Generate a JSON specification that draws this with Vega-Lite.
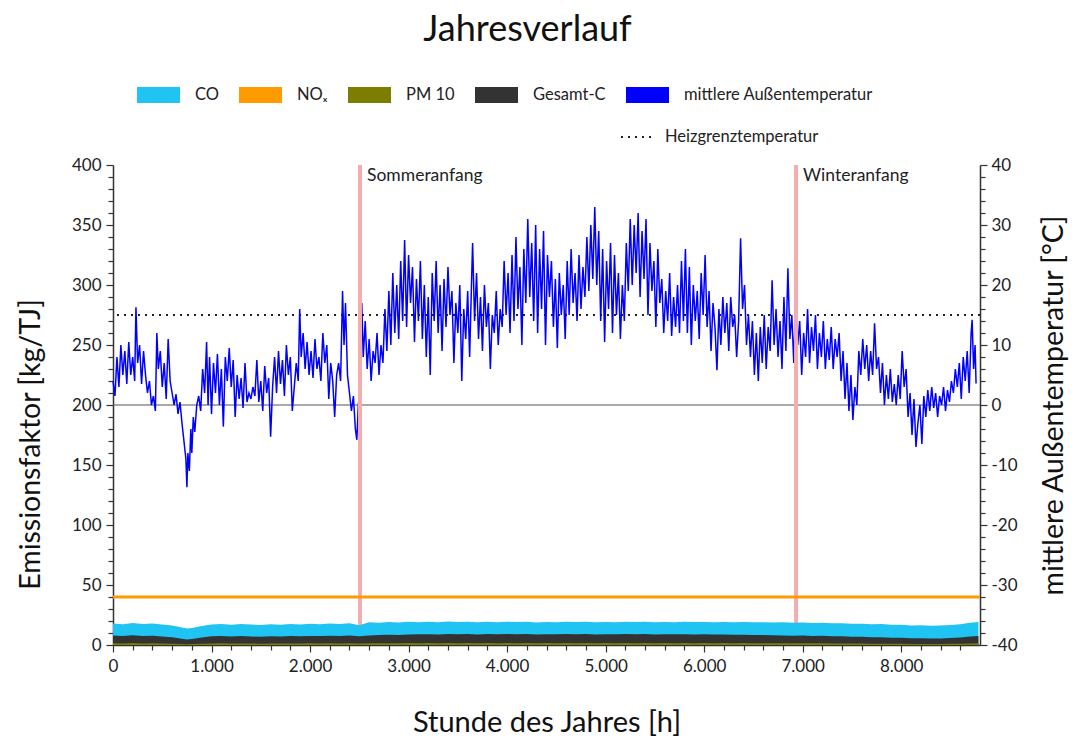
{
"$schema": "https://vega.github.io/schema/vega-lite/v6.json",
"width": 867, "height": 480,
"autosize": {"type": "none"},
"padding": {"left": 113, "top": 165, "right": 99, "bottom": 97},
"background": "white",
"config": {"font": "Lato", "view": {"stroke": null},
  "axis": {"labelFont": "Lato", "titleFont": "Lato", "labelFontSize": 17, "labelColor": "#222", "titleColor": "#111", "titleFontWeight": "normal", "titleFontSize": 28.5, "tickColor": "#333", "domainColor": "#333", "domainWidth": 1.5, "tickWidth": 1.2, "grid": false, "labelOverlap": false, "labelFlush": false, "labelBound": false},
  "legend": {"labelFont": "Lato", "labelFontSize": 16.5, "labelColor": "#222"}},
"title": {"text": "Jahresverlauf", "font": "Lato", "fontSize": 36, "fontWeight": "normal", "color": "#111", "anchor": "middle", "dx": -19, "offset": 25},
"datasets": {
"heiz": [{"t": 15, "name": "Heizgrenztemperatur"}],
"nox": [{"v": 40}],
"events": [{"h": 2507, "label": "Sommeranfang"}, {"h": 6933, "label": "Winteranfang"}],
"temp": [
{"h":0,"t":4},{"h":20,"t":1.5},{"h":40,"t":8},{"h":60,"t":3},{"h":80,"t":10},{"h":100,"t":5},{"h":120,"t":9},{"h":140,"t":3.5},{"h":160,"t":10.5},{"h":180,"t":5},{"h":200,"t":8},{"h":220,"t":4},{"h":233,"t":16.3},{"h":250,"t":7},{"h":270,"t":10},{"h":290,"t":3.5},{"h":310,"t":9},{"h":330,"t":5},{"h":350,"t":2},{"h":370,"t":4},{"h":390,"t":0},{"h":410,"t":1.5},{"h":430,"t":-1},{"h":445,"t":12},{"h":460,"t":6},{"h":480,"t":9},{"h":500,"t":3},{"h":520,"t":7},{"h":540,"t":1},{"h":560,"t":11},{"h":580,"t":4},{"h":600,"t":2},{"h":620,"t":0},{"h":640,"t":1.8},{"h":660,"t":-1.5},{"h":680,"t":0.5},{"h":700,"t":-3},{"h":720,"t":-6},{"h":740,"t":-9},{"h":750,"t":-13.7},{"h":760,"t":-8},{"h":775,"t":-11},{"h":790,"t":-4},{"h":800,"t":-8},{"h":815,"t":-2},{"h":830,"t":-4.5},{"h":850,"t":0},{"h":870,"t":1.5},{"h":890,"t":-1},{"h":910,"t":6},{"h":930,"t":2},{"h":950,"t":10.5},{"h":965,"t":0},{"h":980,"t":8},{"h":1000,"t":-1.5},{"h":1020,"t":7},{"h":1040,"t":2},{"h":1060,"t":8.5},{"h":1080,"t":0},{"h":1100,"t":6},{"h":1120,"t":-3.6},{"h":1140,"t":8},{"h":1160,"t":4},{"h":1180,"t":9.5},{"h":1200,"t":3},{"h":1220,"t":7.5},{"h":1240,"t":-2},{"h":1260,"t":5},{"h":1280,"t":1},{"h":1300,"t":4.5},{"h":1320,"t":-0.5},{"h":1340,"t":7},{"h":1360,"t":0.5},{"h":1380,"t":2},{"h":1400,"t":1},{"h":1420,"t":3},{"h":1440,"t":1.5},{"h":1460,"t":7.5},{"h":1480,"t":0.5},{"h":1500,"t":4},{"h":1520,"t":-1},{"h":1540,"t":6.5},{"h":1560,"t":2},{"h":1580,"t":4.5},{"h":1600,"t":-5.3},{"h":1620,"t":3},{"h":1640,"t":8},{"h":1660,"t":2},{"h":1680,"t":9},{"h":1700,"t":3.5},{"h":1720,"t":7.5},{"h":1740,"t":1.5},{"h":1760,"t":10},{"h":1780,"t":5},{"h":1800,"t":8},{"h":1820,"t":-1},{"h":1840,"t":3},{"h":1860,"t":7},{"h":1880,"t":4},{"h":1895,"t":16},{"h":1910,"t":8},{"h":1930,"t":12},{"h":1950,"t":6},{"h":1970,"t":10.5},{"h":1990,"t":5},{"h":2010,"t":9},{"h":2030,"t":4.5},{"h":2050,"t":11},{"h":2070,"t":6},{"h":2090,"t":8},{"h":2110,"t":4},{"h":2130,"t":12},{"h":2150,"t":7},{"h":2170,"t":10},{"h":2190,"t":1},{"h":2210,"t":7},{"h":2230,"t":4},{"h":2250,"t":-2},{"h":2270,"t":5},{"h":2290,"t":7},{"h":2310,"t":4},{"h":2330,"t":19},{"h":2345,"t":10},{"h":2360,"t":17},{"h":2380,"t":5},{"h":2400,"t":2},{"h":2420,"t":-1},{"h":2440,"t":1.5},{"h":2460,"t":-4},{"h":2475,"t":-5.8},{"h":2490,"t":0},{"h":2510,"t":3},{"h":2525,"t":17},{"h":2540,"t":8},{"h":2560,"t":14},{"h":2580,"t":6},{"h":2600,"t":11},{"h":2620,"t":4},{"h":2640,"t":9},{"h":2660,"t":7},{"h":2680,"t":12},{"h":2700,"t":5},{"h":2720,"t":10},{"h":2740,"t":7},{"h":2760,"t":16},{"h":2780,"t":9},{"h":2800,"t":19},{"h":2820,"t":10},{"h":2840,"t":22},{"h":2860,"t":12},{"h":2880,"t":20},{"h":2900,"t":11},{"h":2920,"t":24},{"h":2940,"t":14},{"h":2960,"t":27.5},{"h":2980,"t":13},{"h":3000,"t":25},{"h":3020,"t":17},{"h":3040,"t":23},{"h":3060,"t":10.5},{"h":3080,"t":21},{"h":3100,"t":14},{"h":3120,"t":24},{"h":3140,"t":11},{"h":3160,"t":20},{"h":3180,"t":8},{"h":3200,"t":18},{"h":3220,"t":5},{"h":3240,"t":22},{"h":3260,"t":14},{"h":3280,"t":24},{"h":3300,"t":12},{"h":3320,"t":20},{"h":3340,"t":9},{"h":3360,"t":21},{"h":3380,"t":13},{"h":3400,"t":23},{"h":3420,"t":15},{"h":3440,"t":19},{"h":3460,"t":7},{"h":3480,"t":17},{"h":3500,"t":12},{"h":3520,"t":20},{"h":3540,"t":4},{"h":3560,"t":16},{"h":3580,"t":11},{"h":3600,"t":19},{"h":3620,"t":8},{"h":3640,"t":21},{"h":3650,"t":27},{"h":3670,"t":14},{"h":3690,"t":22},{"h":3710,"t":11},{"h":3730,"t":18},{"h":3750,"t":9},{"h":3770,"t":20},{"h":3790,"t":13},{"h":3810,"t":17},{"h":3830,"t":6},{"h":3850,"t":15},{"h":3870,"t":12},{"h":3890,"t":19},{"h":3910,"t":10},{"h":3930,"t":16},{"h":3950,"t":13},{"h":3970,"t":24},{"h":3990,"t":15},{"h":4010,"t":22},{"h":4030,"t":12},{"h":4050,"t":25},{"h":4070,"t":14},{"h":4090,"t":28},{"h":4110,"t":16},{"h":4130,"t":23},{"h":4150,"t":10},{"h":4170,"t":26},{"h":4190,"t":17},{"h":4210,"t":31},{"h":4230,"t":18},{"h":4250,"t":27},{"h":4270,"t":14},{"h":4290,"t":30},{"h":4310,"t":12},{"h":4330,"t":26},{"h":4350,"t":16},{"h":4370,"t":29},{"h":4390,"t":10},{"h":4410,"t":25},{"h":4430,"t":18},{"h":4450,"t":24},{"h":4470,"t":13},{"h":4490,"t":21},{"h":4510,"t":9.5},{"h":4530,"t":22},{"h":4550,"t":15},{"h":4570,"t":20},{"h":4590,"t":11},{"h":4610,"t":24},{"h":4630,"t":15},{"h":4650,"t":26},{"h":4670,"t":17},{"h":4690,"t":22},{"h":4710,"t":14},{"h":4730,"t":25},{"h":4750,"t":16},{"h":4770,"t":23},{"h":4790,"t":18},{"h":4810,"t":28},{"h":4830,"t":19},{"h":4850,"t":30},{"h":4870,"t":21},{"h":4890,"t":33},{"h":4910,"t":20},{"h":4930,"t":29},{"h":4950,"t":14},{"h":4970,"t":26},{"h":4990,"t":10.5},{"h":5010,"t":24},{"h":5030,"t":16},{"h":5050,"t":27},{"h":5070,"t":12},{"h":5090,"t":25},{"h":5110,"t":15},{"h":5130,"t":22},{"h":5150,"t":11},{"h":5170,"t":20},{"h":5190,"t":14},{"h":5210,"t":27},{"h":5230,"t":19},{"h":5250,"t":31},{"h":5270,"t":20},{"h":5290,"t":30},{"h":5310,"t":22},{"h":5330,"t":32},{"h":5350,"t":18},{"h":5370,"t":29},{"h":5390,"t":21},{"h":5410,"t":31},{"h":5430,"t":15},{"h":5450,"t":27},{"h":5470,"t":19},{"h":5490,"t":24},{"h":5510,"t":13},{"h":5530,"t":26},{"h":5550,"t":17},{"h":5570,"t":21},{"h":5590,"t":12},{"h":5610,"t":19},{"h":5630,"t":14},{"h":5650,"t":22},{"h":5670,"t":11.5},{"h":5690,"t":18},{"h":5710,"t":13},{"h":5730,"t":20},{"h":5750,"t":12},{"h":5770,"t":24},{"h":5790,"t":14},{"h":5810,"t":26},{"h":5830,"t":12},{"h":5850,"t":23},{"h":5870,"t":10},{"h":5890,"t":20},{"h":5910,"t":14},{"h":5930,"t":19},{"h":5950,"t":11},{"h":5970,"t":22},{"h":5990,"t":15},{"h":6010,"t":25},{"h":6030,"t":13},{"h":6050,"t":19},{"h":6070,"t":9},{"h":6090,"t":17},{"h":6110,"t":13},{"h":6130,"t":5.8},{"h":6150,"t":16},{"h":6170,"t":10},{"h":6190,"t":18},{"h":6210,"t":12},{"h":6230,"t":17},{"h":6250,"t":9},{"h":6270,"t":18},{"h":6290,"t":13},{"h":6310,"t":15},{"h":6330,"t":8},{"h":6350,"t":14},{"h":6370,"t":27.8},{"h":6390,"t":16},{"h":6410,"t":20},{"h":6430,"t":10},{"h":6450,"t":15},{"h":6470,"t":8},{"h":6490,"t":14},{"h":6510,"t":5},{"h":6530,"t":12},{"h":6550,"t":4},{"h":6570,"t":13},{"h":6590,"t":7},{"h":6610,"t":15},{"h":6630,"t":6},{"h":6650,"t":13},{"h":6670,"t":9},{"h":6690,"t":20.8},{"h":6710,"t":10},{"h":6730,"t":16},{"h":6750,"t":8},{"h":6770,"t":14},{"h":6790,"t":6},{"h":6810,"t":18},{"h":6830,"t":9},{"h":6850,"t":22.8},{"h":6870,"t":11},{"h":6890,"t":15},{"h":6910,"t":7},{"h":6930,"t":17.8},{"h":6950,"t":10},{"h":6970,"t":14},{"h":6990,"t":5},{"h":7010,"t":12},{"h":7030,"t":8},{"h":7050,"t":16},{"h":7070,"t":7},{"h":7090,"t":13},{"h":7110,"t":9},{"h":7130,"t":15},{"h":7150,"t":6},{"h":7170,"t":12},{"h":7190,"t":8},{"h":7210,"t":14},{"h":7230,"t":6},{"h":7250,"t":11},{"h":7270,"t":7.5},{"h":7290,"t":13},{"h":7310,"t":6},{"h":7330,"t":11},{"h":7350,"t":8},{"h":7370,"t":12},{"h":7390,"t":4},{"h":7410,"t":9},{"h":7430,"t":1},{"h":7450,"t":7},{"h":7470,"t":-1},{"h":7490,"t":5},{"h":7510,"t":-2.5},{"h":7530,"t":3},{"h":7550,"t":0},{"h":7570,"t":9},{"h":7590,"t":5},{"h":7610,"t":11},{"h":7630,"t":6},{"h":7650,"t":10},{"h":7670,"t":4},{"h":7690,"t":9},{"h":7710,"t":5},{"h":7730,"t":13.6},{"h":7750,"t":6},{"h":7770,"t":8},{"h":7790,"t":2},{"h":7810,"t":7},{"h":7830,"t":0},{"h":7850,"t":5},{"h":7870,"t":1},{"h":7890,"t":6},{"h":7910,"t":0.5},{"h":7930,"t":3.5},{"h":7950,"t":0},{"h":7970,"t":5},{"h":7990,"t":1},{"h":8010,"t":9},{"h":8030,"t":3},{"h":8050,"t":6},{"h":8070,"t":-2},{"h":8090,"t":2},{"h":8110,"t":-5},{"h":8130,"t":1},{"h":8150,"t":-7},{"h":8170,"t":-3},{"h":8190,"t":0},{"h":8210,"t":-6.5},{"h":8230,"t":1.5},{"h":8250,"t":-2},{"h":8270,"t":2.5},{"h":8290,"t":-1},{"h":8310,"t":3},{"h":8330,"t":-0.5},{"h":8350,"t":2},{"h":8370,"t":-2},{"h":8390,"t":1.5},{"h":8410,"t":0},{"h":8430,"t":3},{"h":8450,"t":-1},{"h":8470,"t":2.5},{"h":8490,"t":0.5},{"h":8510,"t":4},{"h":8530,"t":2},{"h":8550,"t":6},{"h":8570,"t":3},{"h":8590,"t":7},{"h":8610,"t":1},{"h":8630,"t":8},{"h":8650,"t":4},{"h":8670,"t":9},{"h":8690,"t":2},{"h":8710,"t":12},{"h":8720,"t":14.2},{"h":8735,"t":6},{"h":8750,"t":10},{"h":8760,"t":3.6}
],
"bands": [
{"h":0,"co":18.0,"gc":8.0,"pm":1.5},{"h":100,"co":17.2,"gc":7.4,"pm":1.2},{"h":200,"co":18.3,"gc":8.2,"pm":1.6},{"h":300,"co":17.5,"gc":7.6,"pm":1.3},{"h":400,"co":17.9,"gc":7.8,"pm":1.4},{"h":500,"co":17.0,"gc":7.0,"pm":1.2},{"h":600,"co":16.2,"gc":6.4,"pm":1.0},{"h":700,"co":14.5,"gc":5.2,"pm":0.8},{"h":750,"co":13.8,"gc":4.6,"pm":0.7},{"h":800,"co":14.2,"gc":5.0,"pm":0.8},{"h":900,"co":15.8,"gc":6.3,"pm":1.0},{"h":1000,"co":17.0,"gc":7.2,"pm":1.2},{"h":1100,"co":17.6,"gc":7.6,"pm":1.4},{"h":1200,"co":16.8,"gc":7.0,"pm":1.2},{"h":1300,"co":17.4,"gc":7.4,"pm":1.3},{"h":1400,"co":17.0,"gc":7.1,"pm":1.2},{"h":1500,"co":16.6,"gc":6.8,"pm":1.1},{"h":1600,"co":17.3,"gc":7.2,"pm":1.3},{"h":1700,"co":16.9,"gc":7.0,"pm":1.2},{"h":1800,"co":17.5,"gc":7.4,"pm":1.3},{"h":1900,"co":17.1,"gc":7.3,"pm":1.2},{"h":2000,"co":17.8,"gc":7.6,"pm":1.4},{"h":2100,"co":17.3,"gc":7.4,"pm":1.2},{"h":2200,"co":17.9,"gc":7.8,"pm":1.4},{"h":2300,"co":17.6,"gc":7.5,"pm":1.3},{"h":2400,"co":18.2,"gc":7.9,"pm":1.5},{"h":2500,"co":16.5,"gc":7.2,"pm":1.2},{"h":2600,"co":19.0,"gc":8.0,"pm":1.5},{"h":2700,"co":18.6,"gc":8.3,"pm":1.4},{"h":2800,"co":19.2,"gc":8.5,"pm":1.5},{"h":2900,"co":18.8,"gc":8.4,"pm":1.4},{"h":3000,"co":19.3,"gc":8.7,"pm":1.6},{"h":3100,"co":18.9,"gc":8.9,"pm":1.5},{"h":3200,"co":19.4,"gc":9.0,"pm":1.6},{"h":3300,"co":19.0,"gc":8.8,"pm":1.5},{"h":3400,"co":19.5,"gc":9.1,"pm":1.6},{"h":3500,"co":19.1,"gc":8.9,"pm":1.5},{"h":3600,"co":19.4,"gc":9.2,"pm":1.6},{"h":3700,"co":18.9,"gc":8.8,"pm":1.5},{"h":3800,"co":19.3,"gc":9.1,"pm":1.6},{"h":3900,"co":19.0,"gc":8.9,"pm":1.5},{"h":4000,"co":19.4,"gc":9.2,"pm":1.6},{"h":4100,"co":19.1,"gc":9.0,"pm":1.5},{"h":4200,"co":19.3,"gc":9.1,"pm":1.6},{"h":4300,"co":18.8,"gc":8.7,"pm":1.5},{"h":4400,"co":19.2,"gc":9.0,"pm":1.6},{"h":4500,"co":19.0,"gc":8.9,"pm":1.5},{"h":4600,"co":19.4,"gc":9.2,"pm":1.6},{"h":4700,"co":19.1,"gc":9.0,"pm":1.5},{"h":4800,"co":19.3,"gc":9.1,"pm":1.6},{"h":4900,"co":18.9,"gc":8.8,"pm":1.5},{"h":5000,"co":19.2,"gc":9.0,"pm":1.6},{"h":5100,"co":19.0,"gc":8.9,"pm":1.5},{"h":5200,"co":19.4,"gc":9.1,"pm":1.6},{"h":5300,"co":19.1,"gc":8.9,"pm":1.5},{"h":5400,"co":19.3,"gc":9.1,"pm":1.6},{"h":5500,"co":18.9,"gc":8.8,"pm":1.5},{"h":5600,"co":19.2,"gc":9.0,"pm":1.6},{"h":5700,"co":19.0,"gc":8.9,"pm":1.5},{"h":5800,"co":19.3,"gc":9.0,"pm":1.6},{"h":5900,"co":19.1,"gc":8.8,"pm":1.5},{"h":6000,"co":19.2,"gc":8.9,"pm":1.6},{"h":6100,"co":18.9,"gc":8.7,"pm":1.5},{"h":6200,"co":19.2,"gc":8.8,"pm":1.6},{"h":6300,"co":18.9,"gc":8.6,"pm":1.5},{"h":6400,"co":19.1,"gc":8.6,"pm":1.6},{"h":6500,"co":18.9,"gc":8.4,"pm":1.5},{"h":6600,"co":19.0,"gc":8.3,"pm":1.5},{"h":6700,"co":18.7,"gc":8.1,"pm":1.4},{"h":6800,"co":18.9,"gc":8.0,"pm":1.5},{"h":6900,"co":18.5,"gc":7.8,"pm":1.4},{"h":7000,"co":18.7,"gc":7.9,"pm":1.5},{"h":7100,"co":18.3,"gc":7.6,"pm":1.4},{"h":7200,"co":18.6,"gc":7.7,"pm":1.4},{"h":7300,"co":18.1,"gc":7.3,"pm":1.3},{"h":7400,"co":18.2,"gc":7.2,"pm":1.3},{"h":7500,"co":17.7,"gc":6.9,"pm":1.2},{"h":7600,"co":17.8,"gc":6.8,"pm":1.2},{"h":7700,"co":17.3,"gc":6.5,"pm":1.1},{"h":7800,"co":17.4,"gc":6.5,"pm":1.1},{"h":7900,"co":16.9,"gc":6.1,"pm":1.0},{"h":8000,"co":16.8,"gc":6.0,"pm":1.0},{"h":8100,"co":16.3,"gc":5.7,"pm":0.9},{"h":8200,"co":16.4,"gc":5.6,"pm":0.9},{"h":8300,"co":16.0,"gc":5.4,"pm":0.9},{"h":8400,"co":16.2,"gc":5.5,"pm":0.9},{"h":8500,"co":16.6,"gc":5.8,"pm":1.0},{"h":8600,"co":17.3,"gc":6.2,"pm":1.1},{"h":8700,"co":18.6,"gc":7.0,"pm":1.3},{"h":8784,"co":19.2,"gc":7.6,"pm":1.4}
]
},
"layer": [
{"layer": [
  {"data": {"values": [{"t": 0}]}, "mark": {"type": "rule", "color": "#555", "strokeWidth": 1.2},
   "encoding": {"y": {"field": "t", "type": "quantitative", "scale": {"domain": [-40, 40], "nice": false, "zero": false},
     "axis": {"orient": "right", "title": "mittlere Außentemperatur [°C]", "titleAngle": 270, "titleBaseline": "top", "titlePadding": 22, "labelOverlap": false, "labelBound": false, "titleFontSize": 28.5, "tickCount": 200,
       "values": [-40,-38,-36,-34,-32,-30,-28,-26,-24,-22,-20,-18,-16,-14,-12,-10,-8,-6,-4,-2,0,2,4,6,8,10,12,14,16,18,20,22,24,26,28,30,32,34,36,38,40],
       "labelExpr": "datum.value % 10 === 0 ? datum.value : ''",
       "tickSize": {"condition": {"test": "datum.value % 10 === 0", "value": 7}, "value": 5}, "labelPadding": 4}}}},
  {"data": {"name": "heiz"}, "mark": {"type": "rule", "strokeWidth": 2, "color": "#222"},
   "encoding": {"y": {"field": "t", "type": "quantitative"},
     "strokeDash": {"field": "name", "type": "nominal", "scale": {"range": [[2, 5]]},
       "legend": {"orient": "none", "legendX": 507, "legendY": -46.5, "title": null, "symbolType": "stroke", "symbolSize": 1225, "symbolStrokeWidth": 2, "symbolStrokeColor": "#222", "labelOffset": 8, "padding": 0, "labelFontSize": 16.5}}}},
  {"data": {"name": "temp"}, "mark": {"type": "line", "strokeWidth": 1.5},
   "encoding": {
     "x": {"field": "h", "type": "quantitative", "scale": {"domain": [0, 8800], "nice": false, "zero": false},
       "axis": {"orient": "bottom", "title": "Stunde des Jahres [h]", "titlePadding": 34, "titleFontSize": 29, "labelOverlap": false, "labelBound": false, "tickCount": 200,
         "values": [0,200,400,600,800,1000,1200,1400,1600,1800,2000,2200,2400,2600,2800,3000,3200,3400,3600,3800,4000,4200,4400,4600,4800,5000,5200,5400,5600,5800,6000,6200,6400,6600,6800,7000,7200,7400,7600,7800,8000,8200,8400,8600],
         "labelExpr": "datum.value % 1000 === 0 ? replace(format(datum.value, ','), ',', '.') : ''",
         "tickSize": {"condition": {"test": "datum.value % 1000 === 0", "value": 7}, "value": 5}, "labelPadding": 6}},
     "y": {"field": "t", "type": "quantitative"},
     "color": {"datum": "mittlere Außentemperatur", "type": "nominal",
       "scale": {"domain": ["CO", "NOₓ", "PM 10", "Gesamt-C", "mittlere Außentemperatur"], "range": ["#1fc4f2", "#ff9a00", "#7d7d00", "#333333", "#0000ff"]},
       "legend": {"orient": "none", "legendX": 24, "legendY": -91.5, "direction": "horizontal", "title": null, "symbolType": "M-1,-0.372H1V0.372H-1Z", "symbolSize": 1849, "symbolStrokeWidth": 0, "symbolOpacity": 1, "labelOffset": 15, "columnPadding": 20, "padding": 0, "labelLimit": 300, "labelFontSize": 16.5,
         "encode": {"symbols": {"update": {"fill": {"scale": "color", "field": "value"}, "fillOpacity": {"value": 1}, "strokeWidth": {"value": 0}}}}}}
   }}
]},
{"layer": [
  {"data": {"name": "events"}, "mark": {"type": "rule", "color": "#f5acac", "strokeWidth": 4},
   "encoding": {"x": {"field": "h", "type": "quantitative"}}},
  {"data": {"name": "bands"}, "mark": {"type": "area", "opacity": 1},
   "encoding": {"x": {"field": "h", "type": "quantitative"},
     "y": {"field": "co", "type": "quantitative", "scale": {"domain": [0, 400], "nice": false},
       "axis": {"orient": "left", "title": "Emissionsfaktor [kg/TJ]", "titlePadding": 26, "titleY": 279, "titleFontSize": 28.5, "labelOverlap": false, "labelBound": false, "tickCount": 200,
         "values": [0,10,20,30,40,50,60,70,80,90,100,110,120,130,140,150,160,170,180,190,200,210,220,230,240,250,260,270,280,290,300,310,320,330,340,350,360,370,380,390,400],
         "labelExpr": "datum.value % 50 === 0 ? datum.value : ''",
         "tickSize": {"condition": {"test": "datum.value % 50 === 0", "value": 7}, "value": 5}, "labelPadding": 5}},
     "color": {"datum": "CO", "type": "nominal"}}},
  {"data": {"name": "bands"}, "mark": {"type": "area", "opacity": 1},
   "encoding": {"x": {"field": "h", "type": "quantitative"}, "y": {"field": "gc", "type": "quantitative"}, "color": {"datum": "Gesamt-C", "type": "nominal"}}},
  {"data": {"name": "bands"}, "mark": {"type": "area", "opacity": 1},
   "encoding": {"x": {"field": "h", "type": "quantitative"}, "y": {"field": "pm", "type": "quantitative"}, "color": {"datum": "PM 10", "type": "nominal"}}},
  {"data": {"name": "nox"}, "mark": {"type": "rule", "strokeWidth": 3},
   "encoding": {"y": {"field": "v", "type": "quantitative"}, "color": {"datum": "NOₓ", "type": "nominal"}}},
  {"data": {"name": "events"}, "mark": {"type": "text", "align": "left", "baseline": "top", "dx": 7, "dy": 2, "fontSize": 17.5, "color": "#222", "font": "Lato"},
   "encoding": {"x": {"field": "h", "type": "quantitative"}, "y": {"datum": 400}, "text": {"field": "label"}}}
]}
],
"resolve": {"scale": {"y": "independent"}}
}
